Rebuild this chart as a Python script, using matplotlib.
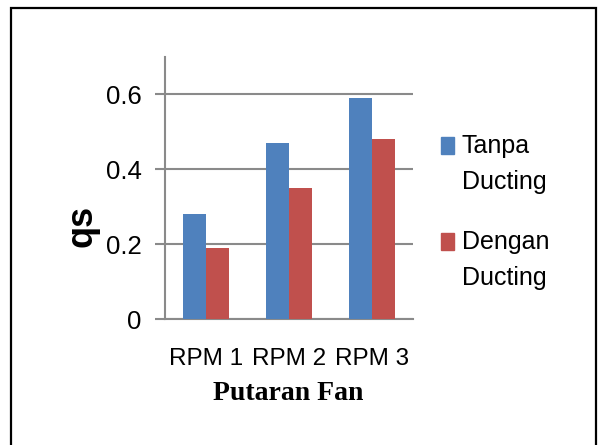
import matplotlib
matplotlib.use("Agg")
import matplotlib.pyplot as plt
import matplotlib.patches as mpatches
import numpy as np

CATEGORIES = ["RPM 1", "RPM 2", "RPM 3"]
SERIES_NAMES = ["Tanpa\nDucting", "Dengan\nDucting"]
TANPA = [0.28, 0.47, 0.59]
DENGAN = [0.19, 0.35, 0.48]
COLORS = ["#4F81BD", "#C0504D"]
Y_TICKS = [0, 0.2, 0.4, 0.6]
Y_TICK_LABELS = ["0", "0.2", "0.4", "0.6"]

SANS = ["Liberation Sans", "DejaVu Sans"]
GRID = "#8a8a8a"

W, H = 603, 445


def fx(px):
    return px / W


def fy(py):
    return 1 - py / H


def main():
    fig = plt.figure(figsize=(6.03, 4.45), dpi=100)
    ax = fig.add_axes([fx(165), fy(319.3), fx(413) - fx(165), fy(57) - fy(319.3)])

    x = np.arange(len(CATEGORIES))
    bw = 0.28
    ax.bar(x - bw / 2, TANPA, bw, color=COLORS[0], zorder=3)
    ax.bar(x + bw / 2, DENGAN, bw, color=COLORS[1], zorder=3)

    ax.set_xlim(-0.5, len(CATEGORIES) - 0.5)
    ax.set_ylim(0, 0.7)
    ax.set_yticks(Y_TICKS)
    ax.set_yticklabels(Y_TICK_LABELS, family=SANS, fontsize=18.5)
    ax.set_xticks(x)
    ax.set_xticklabels(CATEGORIES, family=SANS, fontsize=17.5)

    ax.tick_params(axis="y", length=7, width=1.5, color=GRID, pad=10)
    ax.tick_params(axis="x", length=0, pad=21)
    ax.yaxis.grid(True, color=GRID, linewidth=1.5, zorder=0)
    ax.set_axisbelow(True)
    for side in ["top", "right"]:
        ax.spines[side].set_visible(False)
    for side in ["left", "bottom"]:
        ax.spines[side].set_color(GRID)
        ax.spines[side].set_linewidth(1.5)

    ax.set_ylabel("qs", family=SANS, fontweight="bold", fontsize=26,
                  va="center", ha="center")
    ax.yaxis.set_label_coords(-0.335, 0.355)
    ax.set_xlabel("Putaran Fan", family="Liberation Serif", fontweight="bold",
                  fontsize=20, va="center", ha="center")
    ax.xaxis.set_label_coords(0.496, -0.283)

    # legend drawn by hand so the square sits beside the first line
    for i, (name, col) in enumerate(zip(SERIES_NAMES, COLORS)):
        top = 137 + i * 96
        fig.add_artist(mpatches.Rectangle((fx(441), fy(top + 17)), fx(13), 17 / H,
                                          transform=fig.transFigure, color=col))
        fig.text(fx(462), fy(top - 3), name, family=SANS, fontsize=18,
                 va="top", ha="left", linespacing=1.65)

    # outer frame (bottom edge falls outside the picture)
    fig.add_artist(mpatches.Rectangle((fx(10.5), -0.05), fx(596) - fx(10.5), fy(7.5) + 0.05,
                                      transform=fig.transFigure, fill=False,
                                      edgecolor="black", linewidth=1.6))

    fig.savefig("out.png", dpi=100)
    plt.close(fig)


if __name__ == "__main__":
    main()
